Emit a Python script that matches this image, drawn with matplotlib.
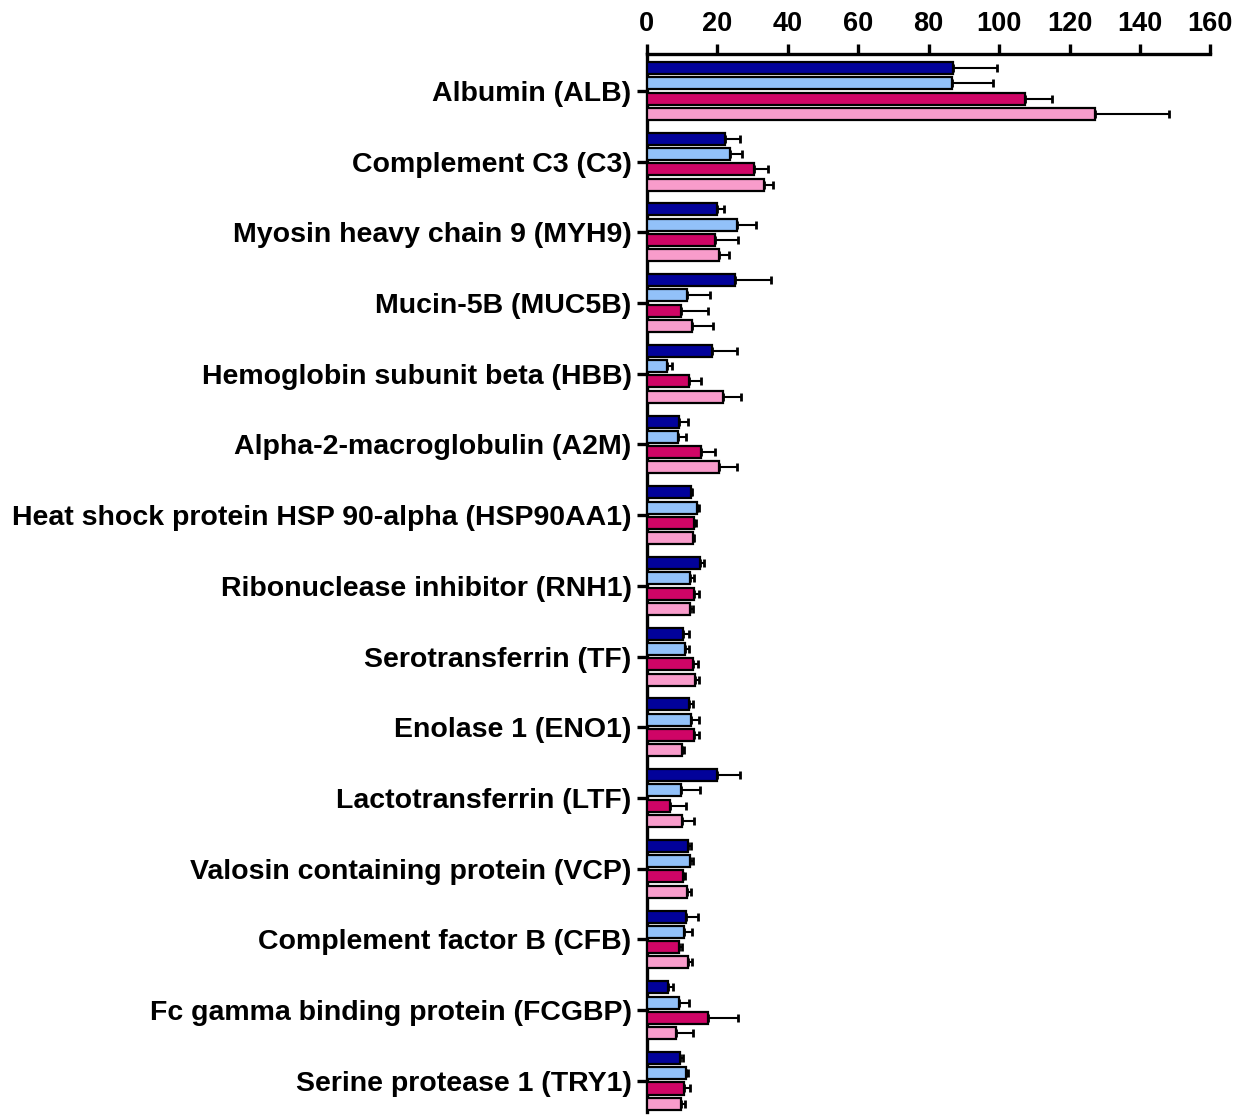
import numpy as np
import matplotlib.pyplot as plt

plt.rcParams['font.family'] = ['Liberation Sans', 'DejaVu Sans']
plt.rcParams['font.weight'] = 'bold'

proteins = ['Albumin (ALB)', 'Complement C3 (C3)', 'Myosin heavy chain 9 (MYH9)',
            'Mucin-5B (MUC5B)', 'Hemoglobin subunit beta (HBB)', 'Alpha-2-macroglobulin (A2M)',
            'Heat shock protein HSP 90-alpha (HSP90AA1)', 'Ribonuclease inhibitor (RNH1)',
            'Serotransferrin (TF)', 'Enolase 1 (ENO1)', 'Lactotransferrin (LTF)',
            'Valosin containing protein (VCP)', 'Complement factor B (CFB)',
            'Fc gamma binding protein (FCGBP)', 'Serine protease 1 (TRY1)']

# mean values for the four groups
g1 = [86.9, 22.3, 19.8, 24.9, 18.4, 9.0, 12.5, 15.1, 10.3, 12.0, 19.9, 11.6, 11.2, 6.1, 9.4]
g2 = [86.7, 23.5, 25.6, 11.4, 5.8, 8.7, 14.2, 12.3, 10.8, 12.5, 9.7, 12.3, 10.5, 9.2, 11.2]
g3 = [107.4, 30.3, 19.3, 9.7, 12.1, 15.4, 13.4, 13.3, 13.0, 13.3, 6.6, 10.2, 9.2, 17.4, 10.4]
g4 = [127.3, 33.3, 20.5, 12.9, 21.6, 20.5, 13.0, 12.3, 13.7, 9.9, 10.1, 11.5, 11.7, 8.4, 9.8]

# error (upper side only)
e1 = [12.6, 4.2, 2.2, 10.4, 7.2, 2.6, 0.4, 1.2, 1.6, 1.1, 6.6, 0.9, 3.4, 1.3, 0.8]
e2 = [11.5, 3.4, 5.4, 6.6, 1.4, 2.3, 0.6, 1.1, 1.1, 2.2, 5.5, 0.8, 2.4, 2.9, 0.5]
e3 = [7.7, 4.0, 6.6, 7.6, 3.4, 3.9, 0.5, 1.5, 1.5, 1.4, 4.6, 0.5, 0.9, 8.4, 1.8]
e4 = [21.0, 2.4, 2.8, 5.8, 5.2, 5.2, 0.5, 0.7, 1.1, 0.7, 3.2, 1.0, 1.2, 4.8, 1.0]

colors = ['#02029a', '#92c1f9', '#cf0566', '#f89ccb']

fig = plt.figure(figsize=(12.44, 11.17), dpi=100)
ax = fig.add_axes([0.520, 0.0045, 0.453, 0.947])

y = np.arange(len(proteins))
pitch = 0.216
height = 0.17
for i, (vals, errs) in enumerate(zip([g1, g2, g3, g4], [e1, e2, e3, e4])):
    pos = y + (i - 1.5) * pitch
    ax.barh(pos, vals, height=height, color=colors[i], edgecolor='black',
            linewidth=1.6, zorder=3)
    ax.errorbar(vals, pos, xerr=[np.zeros(len(vals)), errs], fmt='none',
                ecolor='black', elinewidth=1.5, capsize=3, capthick=2, zorder=2)

ax.set_xlim(0, 160)
ax.set_ylim(14.44, -0.52)
ax.set_xticks(np.arange(0, 161, 20))
ax.set_yticks(y)
ax.set_yticklabels(proteins)

ax.xaxis.tick_top()
ax.spines['bottom'].set_visible(False)
ax.spines['right'].set_visible(False)
for s in ['top', 'left']:
    ax.spines[s].set_linewidth(2.4)
ax.tick_params(axis='both', width=2.4, length=7, direction='out')
ax.tick_params(axis='x', labelsize=19.5, pad=5.5)
ax.tick_params(axis='y', labelsize=20.5, pad=4)

fig.savefig('out.png', dpi=100)
